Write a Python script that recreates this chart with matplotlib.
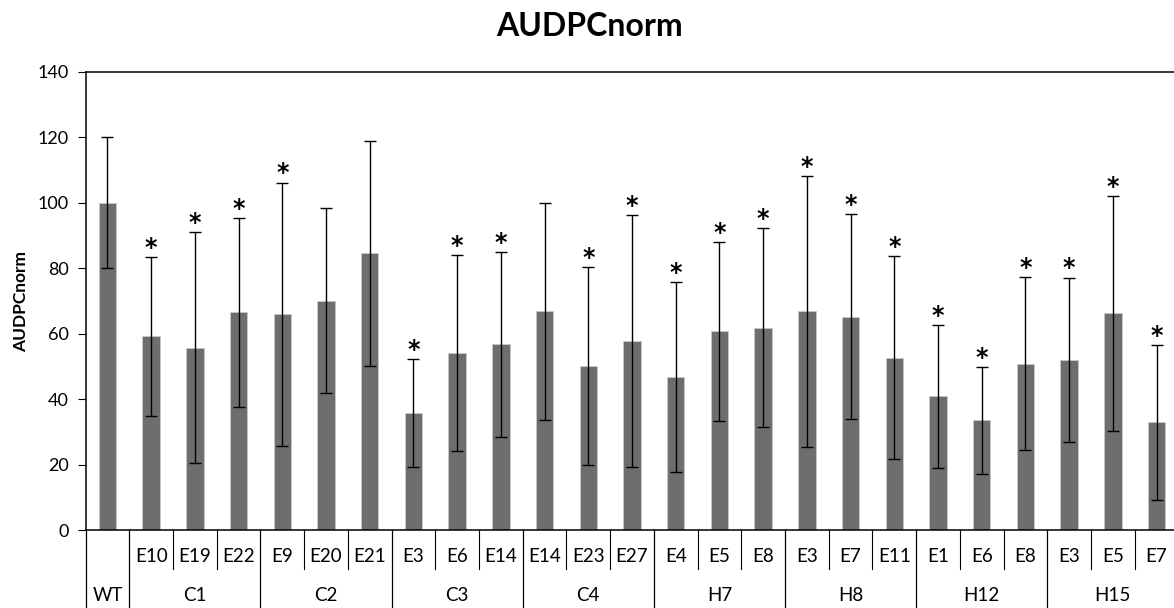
import matplotlib
matplotlib.use('Agg')
import matplotlib.pyplot as plt
import numpy as np

plt.rcParams['font.family'] = ['Lato', 'DejaVu Sans']

# data
lines = ['', 'E10', 'E19', 'E22', 'E9', 'E20', 'E21', 'E3', 'E6', 'E14',
         'E14', 'E23', 'E27', 'E4', 'E5', 'E8', 'E3', 'E7', 'E11',
         'E1', 'E6', 'E8', 'E3', 'E5', 'E7']
groups = ['WT', 'C1', 'C2', 'C3', 'C4', 'H7', 'H8', 'H12', 'H15']
group_sizes = [1, 3, 3, 3, 3, 3, 3, 3, 3]
values = [100, 59.2, 55.8, 66.5, 65.9, 70.1, 84.5, 35.8, 54.1, 56.8,
          66.8, 50.1, 57.7, 46.8, 60.7, 61.9, 66.8, 65.2, 52.7,
          40.9, 33.6, 50.9, 52.1, 66.2, 33.0]
errors = [20, 24.2, 35.3, 28.7, 40.2, 28.2, 34.3, 16.5, 29.8, 28.2,
          33.0, 30.2, 38.4, 29.0, 27.2, 30.3, 41.3, 31.2, 30.9,
          21.7, 16.3, 26.4, 25.0, 35.9, 23.6]
signif = [0, 1, 1, 1, 1, 0, 0, 1, 1, 1, 0, 1, 1, 1, 1, 1, 1, 1, 1,
          1, 1, 1, 1, 1, 1]

fig = plt.figure(figsize=(11.74, 6.08), dpi=100)
ax = fig.add_axes([0.0729, 0.1275, 0.9309, 0.7549])

x = np.arange(len(values))
ax.bar(x, values, width=0.4, color='#6e6e6e', edgecolor='#c8c8c8', lw=0.6, zorder=2)
ax.errorbar(x, values, yerr=errors, fmt='none', ecolor='black', elinewidth=1,
            capsize=4.2, capthick=1, zorder=3)

for xi, v, e, s in zip(x, values, errors, signif):
    if s:
        ax.annotate('*', (xi, v + e), xytext=(0, -2), textcoords='offset points',
                    ha='center', va='bottom', fontsize=17, family='DejaVu Sans',
                    fontweight='bold')

ax.set_xlim(-0.5, len(values) - 0.5)
ax.set_ylim(0, 140)
ax.set_yticks(range(0, 141, 20))
ax.tick_params(axis='y', direction='out', length=6, labelsize=13, pad=6)
ax.set_xticks([])
for sp in ax.spines.values():
    sp.set_linewidth(1.1)

# category table under the axis
tr = ax.get_xaxis_transform()
row1_bottom = -0.0839
full_bottom = -0.2
ax.plot([-0.5, -0.5], [0, full_bottom], transform=tr, color='black', lw=0.9, clip_on=False)
pos = -0.5
for g, n in zip(groups, group_sizes):
    for k in range(1, n):
        ax.plot([pos + k, pos + k], [0, row1_bottom], transform=tr, color='black',
                lw=0.8, clip_on=False)
    ax.text(pos + n / 2, -0.1427, g, transform=tr, ha='center', va='center', fontsize=13.5)
    pos += n
    ax.plot([pos, pos], [0, full_bottom], transform=tr, color='black', lw=0.9, clip_on=False)

for xi, lab in zip(x, lines):
    ax.text(xi, -0.0577, lab, transform=tr, ha='center', va='center', fontsize=13.5)

fig.text(0.502, 1 - 26 / 608, 'AUDPCnorm', ha='center', va='center', fontsize=23,
         fontweight='bold')
fig.text(0.018, 0.504, 'AUDPCnorm', ha='center', va='center', rotation=90,
         fontsize=12.5, fontweight='bold')

fig.savefig('out.png', dpi=100)
